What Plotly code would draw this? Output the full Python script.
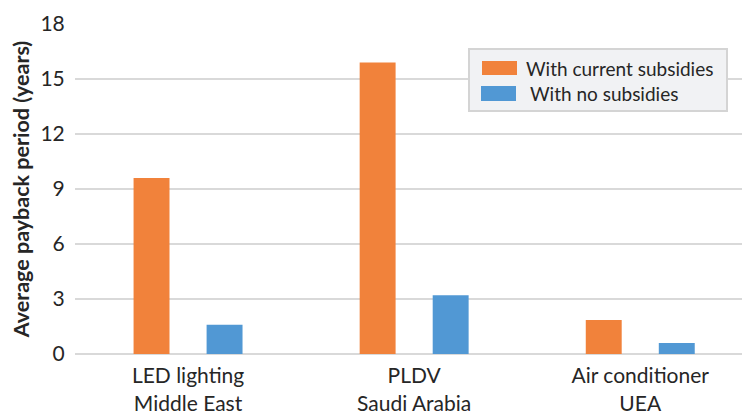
import plotly.graph_objects as go

# Chart data
categories = ["LED lighting<br>Middle East", "PLDV<br>Saudi Arabia", "Air conditioner<br>UEA"]
series_names = ["With current subsidies", "With no subsidies"]
with_current_subsidies = [9.6, 15.9, 1.85]
with_no_subsidies = [1.6, 3.2, 0.6]
y_ticks = [0, 3, 6, 9, 12, 15, 18]

ORANGE = "#F1823B"
BLUE = "#5198D4"
TEXT = "#262626"
FONT = "Lato"

fig = go.Figure()
fig.add_trace(go.Bar(x=[0, 1, 2], y=with_current_subsidies, name=series_names[0],
                     marker=dict(color=ORANGE, line=dict(width=0))))
fig.add_trace(go.Bar(x=[0, 1, 2], y=with_no_subsidies, name=series_names[1],
                     marker=dict(color=BLUE, line=dict(width=0))))

W, H = 742, 415
L, R, T, B = 75, 0, 24, 61
pw, ph = W - L - R, H - T - B


def px(x):
    return (x - L) / pw


def py(y):
    return (H - B - y) / ph


fig.update_layout(
    width=W, height=H,
    margin=dict(l=L, r=R, t=T, b=B),
    paper_bgcolor="white", plot_bgcolor="white",
    barmode="group", bargap=0.354, bargroupgap=0.508,
    showlegend=False,
    font=dict(family=FONT, color=TEXT),
    xaxis=dict(
        range=[-0.5, 2.45], tickmode="array", tickvals=[0, 1, 2], ticktext=categories,
        showgrid=False, zeroline=False, showline=False, automargin=False,
        ticks="outside", ticklen=3, tickcolor="rgba(0,0,0,0)",
        tickfont=dict(size=21, color=TEXT, family=FONT),
    ),
    yaxis=dict(
        range=[0, 18], tickmode="array", tickvals=y_ticks, automargin=False,
        showgrid=True, gridcolor="#D9D9D9", gridwidth=2,
        zeroline=True, zerolinecolor="#D9D9D9", zerolinewidth=2,
        showline=False, ticks="outside", ticklen=5, tickcolor="rgba(0,0,0,0)",
        tickfont=dict(size=21, color=TEXT, family=FONT),
        title=dict(text="<b>Average payback period (years)</b>",
                   font=dict(size=21.5, color=TEXT, family=FONT), standoff=4),
    ),
)

# Legend drawn as a boxed key with wide swatches
shapes = [
    dict(type="rect", xref="paper", yref="paper", x0=px(469), x1=px(727), y0=py(111), y1=py(49),
         fillcolor="#F1F2F4", line=dict(color="#D4D4D4", width=2), layer="above"),
    dict(type="rect", xref="paper", yref="paper", x0=px(482), x1=px(517), y0=py(75), y1=py(61),
         fillcolor=ORANGE, line=dict(width=0), layer="above"),
    dict(type="rect", xref="paper", yref="paper", x0=px(481), x1=px(516), y0=py(101), y1=py(86),
         fillcolor=BLUE, line=dict(width=0), layer="above"),
]
annotations = [
    dict(text=series_names[0], xref="paper", yref="paper", x=px(524), y=py(68),
         xanchor="left", yanchor="middle", showarrow=False,
         font=dict(size=19, color=TEXT, family=FONT)),
    dict(text=series_names[1], xref="paper", yref="paper", x=px(528), y=py(93),
         xanchor="left", yanchor="middle", showarrow=False,
         font=dict(size=19, color=TEXT, family=FONT)),
]
fig.update_layout(shapes=shapes, annotations=annotations)

fig.write_html("out.html")
